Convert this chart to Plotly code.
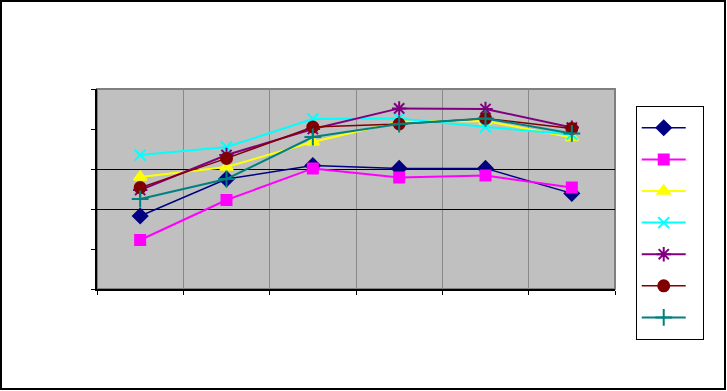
import plotly.graph_objects as go

categories = ["1", "2", "3", "4", "5", "6"]

s_navy = [36.5, 55.0, 61.7, 60.3, 60.3, 47.8]
s_magenta = [24.5, 44.5, 60.3, 55.8, 56.7, 50.7]
s_yellow = [56.0, 61.0, 73.5, 83.7, 84.0, 75.7]
s_cyan = [67.0, 71.0, 85.0, 85.3, 81.0, 77.3]
s_purple = [49.5, 67.0, 80.0, 90.3, 90.0, 80.7]
s_maroon = [50.7, 65.3, 81.0, 82.5, 85.3, 80.3]
s_teal = [45.0, 55.0, 76.0, 82.5, 85.3, 77.8]

series = [
    (s_navy, "#000080", "diamond", 11, 1.5),
    (s_magenta, "#FF00FF", "square", 10, 2),
    (s_yellow, "#FFFF00", "triangle-up", 11, 2),
    (s_cyan, "#00FFFF", "x-thin-open", 11, 2),
    (s_purple, "#800080", "asterisk-open", 12, 2),
    (s_maroon, "#800000", "circle", 11, 1.5),
    (s_teal, "#008080", "cross-thin-open", 12, 2),
]

fig = go.Figure()
for vals, col, sym, sz, lw in series:
    fig.add_trace(go.Scatter(
        x=categories, y=vals, mode="lines+markers", name=" ",
        line=dict(color=col, width=lw),
        marker=dict(symbol=sym, size=sz, color=col, line=dict(color=col, width=2)),
    ))

fig.update_layout(
    width=727, height=391,
    margin=dict(l=97, r=112, t=89, b=102),
    paper_bgcolor="white",
    plot_bgcolor="#C0C0C0",
    showlegend=True,
    legend=dict(
        x=1.04, y=0.915, xanchor="left", yanchor="top",
        bordercolor="black", borderwidth=1, bgcolor="white",
        font=dict(size=22, family="Arial"),
        itemwidth=44, tracegroupgap=0, maxheight=300,
    ),
    xaxis=dict(
        type="category", tickson="boundaries", range=[-0.5, 5.5],
        showticklabels=False, ticks="outside", ticklen=4, tickcolor="black",
        showgrid=True, gridcolor="#8A8A8A", gridwidth=1,
        showline=True, linecolor="black", linewidth=1.5,
        zeroline=False, fixedrange=True,
    ),
    yaxis=dict(
        range=[0, 100], tickvals=[40, 60], showticklabels=False,
        ticks="outside", ticklen=4, tickcolor="black",
        showgrid=True, gridcolor="black", gridwidth=1,
        showline=True, linecolor="black", linewidth=1.5,
        zeroline=False,
        minor=dict(tick0=0, dtick=20, ticks="outside", ticklen=4,
                   tickcolor="black", showgrid=False),
    ),
    shapes=[
        dict(type="rect", xref="paper", yref="paper", x0=0, x1=1, y0=0, y1=1,
             line=dict(color="#808080", width=2), layer="below"),
        dict(type="rect", xref="paper", yref="paper",
             x0=-96 / 518, x1=(725 - 97) / 518, y0=-(389 - 289) / 200, y1=(289 - 1) / 200,
             line=dict(color="black", width=2), layer="above"),
    ],
)

fig.write_html("out.html")
